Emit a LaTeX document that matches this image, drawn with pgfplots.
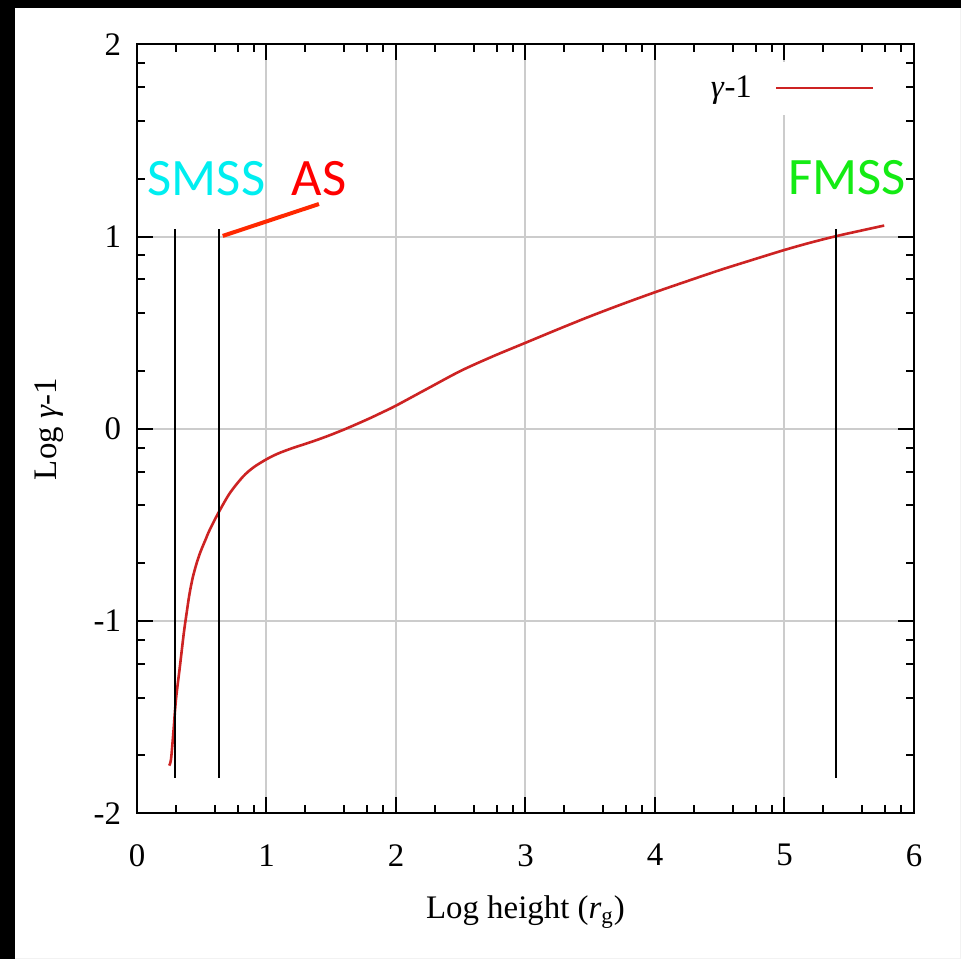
\documentclass[border=0pt]{standalone}
\usepackage{pgfplots}
\pgfplotsset{compat=1.18}
\usepackage{fontspec}
\setmainfont{Liberation Serif}
\newfontfamily\calib{Carlito}
\definecolor{curvered}{RGB}{205,35,35}
\definecolor{smsscol}{RGB}{0,238,240}
\definecolor{ascol}{RGB}{255,0,0}
\definecolor{fmsscol}{RGB}{20,235,20}
\definecolor{pointer}{RGB}{255,40,0}
\definecolor{edgegray}{RGB}{242,242,242}
\begin{document}
\begin{tikzpicture}
\useasboundingbox (0,0) rectangle (480.5bp,479.5bp);
\fill[white] (0bp,0bp) rectangle (480.5bp,479.5bp);
\fill[edgegray] (480bp,0bp) rectangle (480.5bp,479.5bp);
\fill[edgegray] (0bp,0bp) rectangle (480.5bp,0.5bp);
\fill[black] (0bp,0bp) rectangle (7.5bp,479.5bp);
\fill[black] (0bp,475.5bp) rectangle (480.5bp,479.5bp);
\begin{axis}[
  at={(68.5bp,72.85bp)}, anchor=south west,
  width=388.5bp, height=384.4bp, scale only axis,
  xmin=0, xmax=6, ymin=-2, ymax=2,
  xtick={0,1,2,3,4,5,6}, ytick={-2,-1,0,1,2},
  xticklabels={0,1,2,3,4,5,6},
  yticklabels={-2,-1,0,1,2},
  minor xtick={0.301,0.602,0.778,0.903,1.301,1.602,1.778,1.903,2.301,2.602,2.778,2.903,3.301,3.602,3.778,3.903,4.301,4.602,4.778,4.903,5.301,5.602,5.778,5.903},
  minor ytick={-1.699,-1.398,-1.222,-1.097,-0.699,-0.398,-0.222,-0.097,0.301,0.602,0.778,0.903,1.301,1.602,1.778,1.903},
  tick align=inside,
  major tick length=8bp, minor tick length=4bp,
  every tick/.style={black, line width=1bp},
  axis line style={line width=1bp},
  grid=major,
  major grid style={line width=1bp, color=black!20},
  tick label style={font=\fontsize{16.5}{18}\selectfont},
  xticklabel style={yshift=-12bp},
  yticklabel style={xshift=-4.5bp},
  label style={font=\fontsize{16.5}{18}\selectfont},
  xlabel={Log height (\textit{r}\textsubscript{g})},
  ylabel={Log \textit{γ}-1},
  xlabel style={at={(axis description cs:0.5,-0.1284)}, anchor=center},
  ylabel style={at={(axis description cs:-0.1133,0.5)}, anchor=center, rotate=0},
  legend style={draw=none, fill=white, at={(axis description cs:0.969,0.978)}, anchor=north east,
    legend plot pos=right, font=\fontsize{16.5}{18}\selectfont,
    inner xsep=7.5bp, inner ysep=7bp,
    nodes={inner sep=0pt}, column sep=11.5bp},
  legend image code/.code={\draw[#1] (0bp,0bp) -- (48.5bp,0bp);},
]
\addplot[color=curvered, line width=1.3bp, smooth, tension=0.5] coordinates {
(0.249,-1.752) (0.263,-1.717) (0.281,-1.578) (0.301,-1.407) (0.332,-1.232)
(0.362,-1.060) (0.385,-0.950) (0.405,-0.860) (0.430,-0.775) (0.460,-0.700)
(0.490,-0.640) (0.530,-0.575) (0.561,-0.526) (0.626,-0.440) (0.716,-0.335)
(0.819,-0.248) (0.900,-0.200) (1.000,-0.158) (1.090,-0.128) (1.200,-0.100)
(1.300,-0.078) (1.400,-0.055) (1.500,-0.030) (1.600,-0.003) (1.700,0.026)
(1.800,0.056) (1.900,0.088) (2.000,0.121) (2.250,0.212) (2.500,0.302)
(2.750,0.378) (3.000,0.448) (3.250,0.518) (3.500,0.586) (3.750,0.650)
(4.000,0.711) (4.250,0.769) (4.500,0.826) (4.750,0.879) (5.000,0.931)
(5.200,0.969) (5.400,1.003) (5.600,1.033) (5.770,1.058)
};
\addlegendentry{\textit{γ}-1}
\addplot[forget plot, black, line width=1bp] coordinates {(0.29,-1.816) (0.29,1.038)};
\addplot[forget plot, black, line width=1bp] coordinates {(0.633,-1.816) (0.633,1.038)};
\addplot[forget plot, black, line width=1bp] coordinates {(5.40,-1.816) (5.40,1.038)};
\addplot[forget plot, color=pointer, line width=2bp] coordinates {(0.662,1.004) (1.405,1.170)};
\node[font=\calib\fontsize{26.4}{30}\selectfont, text=smsscol, inner sep=0pt] at (axis cs:0.537,1.302) {SMSS};
\node[font=\calib\fontsize{26.4}{30}\selectfont, text=ascol, inner sep=0pt] at (axis cs:1.405,1.302) {AS};
\node[font=\calib\fontsize{26.4}{30}\selectfont, text=fmsscol, inner sep=0pt] at (axis cs:5.486,1.307) {FMSS};
\end{axis}
\end{tikzpicture}
\end{document}
